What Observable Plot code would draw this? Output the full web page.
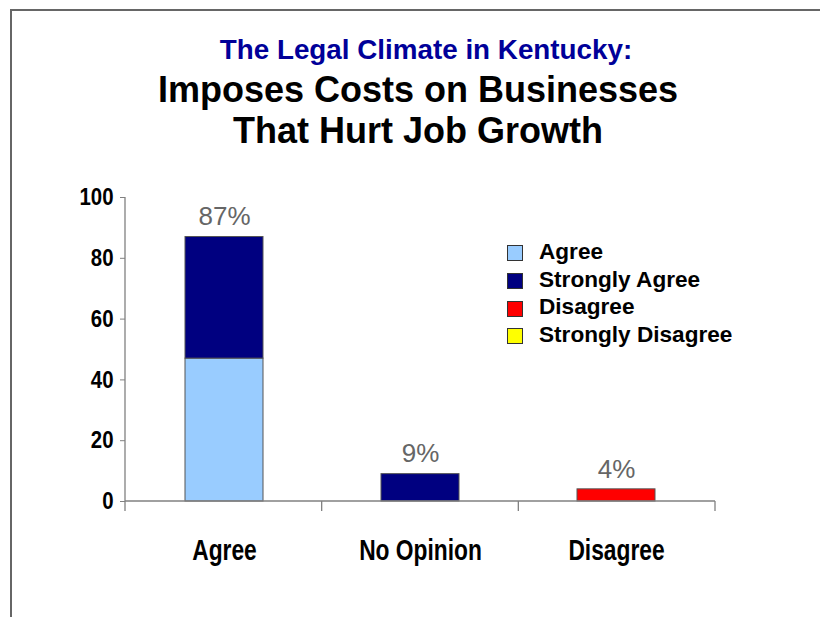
<!DOCTYPE html>
<html>
<head>
<meta charset="utf-8">
<script src="https://cdn.jsdelivr.net/npm/d3@7"></script>
<script src="https://cdn.jsdelivr.net/npm/@observablehq/plot@0.6"></script>
<style>
  html, body { margin: 0; padding: 0; background: #fff; }
  #wrap { position: relative; width: 820px; height: 617px; overflow: hidden; background: #fff; }
  #frame { position: absolute; left: 10px; top: 9px; right: -10px; bottom: -10px; border-top: 2px solid #666; border-left: 2px solid #666; }
  .ttl { position: absolute; width: 820px; text-align: center; font-family: "Liberation Sans", Arial, sans-serif; font-weight: bold; white-space: nowrap; }
  #sub { left: 16px; top: 33px; font-size: 27.8px; line-height: 34px; color: #000099; }
  #main { left: 8px; top: 69px; font-size: 36px; line-height: 41px; color: #000; }
  #chart { position: absolute; left: 0; top: 160px; }
  #legend { position: absolute; left: 507px; top: 238px; font-family: "Liberation Sans", Arial, sans-serif; font-weight: bold; font-size: 22.6px; color: #000; }
  .row { height: 27.7px; display: flex; align-items: center; white-space: nowrap; }
  .sw { width: 16px; height: 16px; box-sizing: border-box; border: 1px solid #333; margin-right: 16px; margin-top: 3px; }
</style>
</head>
<body>
<div id="wrap">
  <div id="frame"></div>
  <div class="ttl" id="sub">The Legal Climate in Kentucky:</div>
  <div class="ttl" id="main">Imposes Costs on Businesses<br>That Hurt Job Growth</div>
  <div id="chart"></div>
  <div id="legend"></div>
</div>
<script>
// ---- data ----
const categories = ["Agree", "No Opinion", "Disagree"];
const seriesNames = ["Agree", "Strongly Agree", "Disagree", "Strongly Disagree"];
const seriesColors = ["#99ccff", "#000080", "#ff0000", "#ffff00"];
const barCategory = ["Agree", "Agree", "No Opinion", "Disagree"];
const barSeries = ["Agree", "Strongly Agree", "Strongly Agree", "Disagree"];
const barValues = [47, 40, 9, 4];
const totalLabels = ["87%", "9%", "4%"];
const totalValues = [87, 9, 4];
const yTicks = [0, 20, 40, 60, 80, 100];

const bars = barValues.map((v, i) => ({cat: barCategory[i], series: barSeries[i], value: v}));
const totals = categories.map((c, i) => ({cat: c, value: totalValues[i], label: totalLabels[i]}));

const W = 820, H = 457;
const mL = 125, mR = 105, mT = 37, mB = 116;

function axesMark(...args) {
  const d = args.find(a => a && typeof a === "object" && "marginLeft" in a && "width" in a) ||
            {width: W, height: H, marginLeft: mL, marginRight: mR, marginTop: mT, marginBottom: mB};
  const y0 = d.height - d.marginBottom;
  const x0 = d.marginLeft, x1 = d.width - d.marginRight;
  const g = d3.create("svg:g").attr("stroke", "#808080").attr("stroke-width", 1.3).attr("fill", "none");
  g.append("line").attr("x1", x0).attr("x2", x0).attr("y1", d.marginTop).attr("y2", y0);
  g.append("line").attr("x1", x0).attr("x2", x1).attr("y1", y0).attr("y2", y0);
  const n = categories.length;
  for (let i = 0; i <= n; i++) {
    const x = x0 + i * (x1 - x0) / n;
    g.append("line").attr("x1", x).attr("x2", x).attr("y1", y0).attr("y2", y0 + 10);
  }
  return g.node();
}

const chart = Plot.plot({
  width: W, height: H,
  marginLeft: mL, marginRight: mR, marginTop: mT, marginBottom: mB,
  style: {background: "transparent", color: "#000", overflow: "visible"},
  x: {domain: categories, paddingInner: 0.6, paddingOuter: 0.3, label: null},
  y: {domain: [0, 100], label: null},
  color: {domain: seriesNames, range: seriesColors},
  marks: [
    Plot.barY(bars, {x: "cat", y: "value", fill: "series", stroke: "#555", strokeWidth: 1}),
    Plot.text(totals, {x: "cat", y: "value", text: "label", dy: -20, fill: "#666",
      fontSize: 26, fontFamily: "Liberation Sans, Arial, sans-serif"}),
    Plot.axisX({tickSize: 0, tickPadding: 37, fontSize: 30, fontWeight: "bold",
      fontFamily: "Liberation Sans, Arial, sans-serif", label: null}),
    Plot.axisY({ticks: yTicks, tickSize: 5, tickPadding: 7, stroke: "#808080", fill: "#000", fontSize: 24, fontWeight: "bold",
      fontFamily: "Liberation Sans, Arial, sans-serif", label: null}),
    axesMark
  ]
});
document.getElementById("chart").appendChild(chart);

// condense the axis tick labels horizontally (the reference uses a narrow face)
function condense(sel, k) {
  d3.select(chart).selectAll(sel).each(function() {
    const t = this.getAttribute("transform") || "";
    this.setAttribute("transform", t + ` scale(${k},1)`);
  });
}
condense('g[aria-label="x-axis tick label"] text', 0.76);
condense('g[aria-label="y-axis tick label"] text', 0.85);

// legend
const leg = d3.select("#legend");
seriesNames.forEach((s, i) => {
  const r = leg.append("div").attr("class", "row");
  r.append("div").attr("class", "sw").style("background", seriesColors[i]);
  r.append("span").text(s);
});
</script>
</body>
</html>
